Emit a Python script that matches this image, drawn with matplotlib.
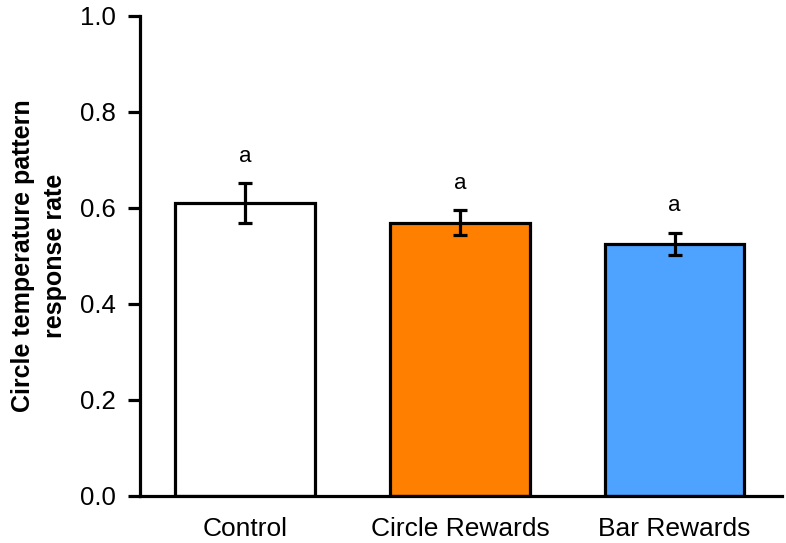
import matplotlib.pyplot as plt

plt.rcParams['font.family'] = ['Liberation Sans', 'DejaVu Sans']

groups = ['Control', 'Circle Rewards', 'Bar Rewards']
rates = [0.610, 0.569, 0.525]
errors = [0.041, 0.026, 0.023]
letters = ['a', 'a', 'a']
colors = ['#ffffff', '#ff8000', '#4da3ff']

fig = plt.figure(figsize=(7.86, 5.43), dpi=100)
ax = fig.add_axes([0.178, 0.0866, 0.817, 0.884])

x = range(len(groups))
ax.bar(x, rates, width=0.65, color=colors, edgecolor='black', linewidth=2.3,
       zorder=2)
ax.errorbar(x, rates, yerr=errors, fmt='none', ecolor='black',
            elinewidth=2.3, capsize=5, capthick=2.3, zorder=3)

for i, (r, e, t) in enumerate(zip(rates, errors, letters)):
    ax.annotate(t, (i, r + e), xytext=(0, 12), textcoords='offset points',
                ha='center', va='bottom', fontsize=16)

ax.set_xlim(-0.49, 2.5)
ax.set_ylim(0, 1.0)
ax.set_yticks([0.0, 0.2, 0.4, 0.6, 0.8, 1.0])
ax.set_yticklabels(['0.0', '0.2', '0.4', '0.6', '0.8', '1.0'])
ax.set_xticks(list(x))
ax.set_xticklabels(groups)

ax.spines['top'].set_visible(False)
ax.spines['right'].set_visible(False)
ax.spines['left'].set_linewidth(2.3)
ax.spines['bottom'].set_linewidth(2.3)
ax.tick_params(axis='y', length=8.5, width=2.3, pad=9, labelsize=18.5)
ax.tick_params(axis='x', length=0, pad=15, labelsize=19)

ax.set_ylabel('Circle temperature pattern\nresponse rate', fontsize=18,
              fontweight='bold', linespacing=1.45, labelpad=9)

fig.savefig('out.png', dpi=100)
